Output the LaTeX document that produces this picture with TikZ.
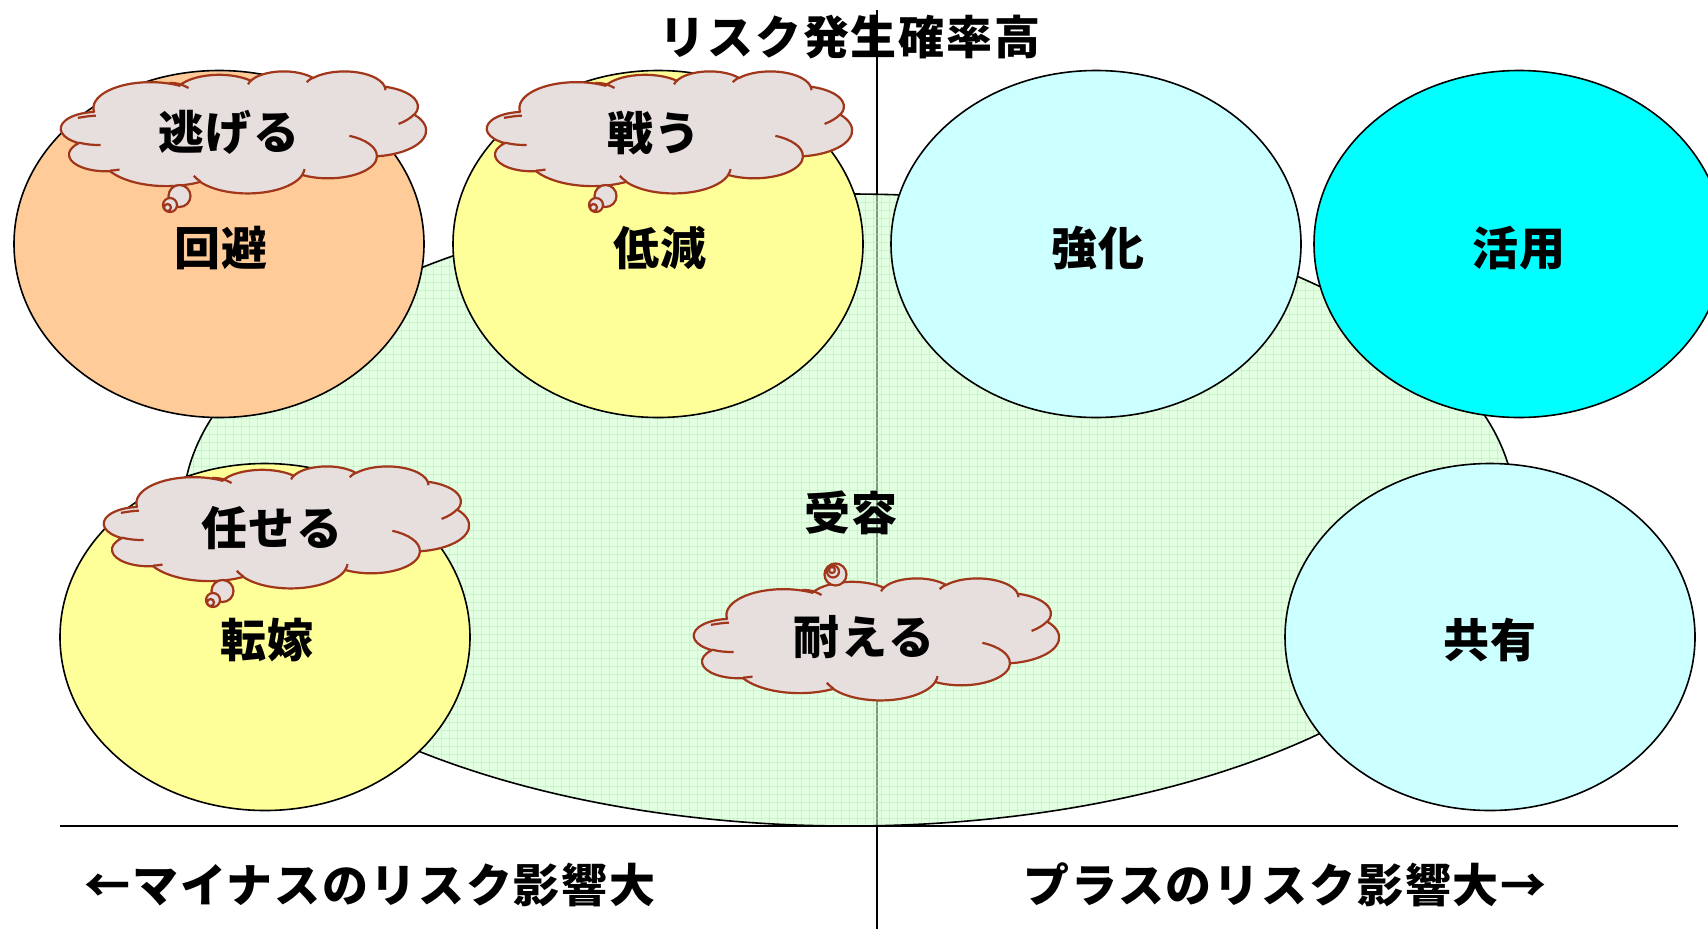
\documentclass[tikz,border=0pt]{standalone}
\usepackage{fontspec}
\newfontfamily\jp{Noto Sans CJK JP}[LetterSpace=4]
\usetikzlibrary{shapes.geometric}

\definecolor{peach}{RGB}{255,204,153}
\definecolor{lyellow}{RGB}{255,255,153}
\definecolor{lcyan}{RGB}{204,255,255}
\definecolor{cyanf}{RGB}{0,255,255}
\definecolor{cloudfill}{RGB}{231,222,222}
\definecolor{cloudline}{RGB}{160,54,26}
\definecolor{bigfill}{RGB}{207,255,207}
\definecolor{gridc}{RGB}{190,238,190}

% arcs of a cloud: name, x radius, y radius, start angle, sweep (geometric, square space)
\newcommand\cloudk{1}
\newcommand\mkarc[5]{%
  \pgfmathsetmacro\cq{(#2/#3)*\cloudk}%
  \pgfmathsetmacro\cta{atan2(\cq*sin(#4),cos(#4))}%
  \pgfmathsetmacro\cte{atan2(\cq*sin(#4+#5),cos(#4+#5))}%
  \pgfmathsetmacro\cte{\cta+mod(\cte-\cta+720,360)}%
  \expandafter\xdef\csname cloudarc#1\endcsname{arc[x radius=#2,y radius=#3,start angle=\cta,end angle=\cte]}%
}
\mkarc{A}{67.53}{91.90}{-190.4875}{123.7805}
\mkarc{B}{53.33}{72.67}{-144.1024}{89.9452}
\mkarc{C}{43.65}{59.45}{-145.8079}{99.7230}
\mkarc{D}{48.57}{65.95}{-130.9861}{117.2417}
\mkarc{E}{53.33}{72.73}{-78.7089}{109.0269}
\mkarc{F}{67.75}{92.20}{-46.2673}{130.2690}
\mkarc{G}{57.85}{78.67}{0.6250}{114.0333}
\mkarc{H}{67.52}{92.15}{22.4516}{115.1726}
\mkarc{I}{77.20}{105.43}{66.2426}{75.7110}
\mkarc{J}{43.60}{59.18}{-274.9421}{146.7356}
\mkarc{K}{43.45}{59.45}{-246.8285}{152.5189}
% inner strokes
\mkarc{ia}{43.45}{59.45}{86.742}{26.4295}
\mkarc{ib}{43.60}{59.18}{73.6105}{11.4475}
\mkarc{ic}{77.20}{105.43}{137.6242}{14.0811}
\mkarc{id}{67.52}{92.15}{6.4533}{15.9984}
\mkarc{ie}{57.85}{78.67}{-70.2924}{70.9174}
\mkarc{if}{67.75}{92.20}{30.3180}{27.7515}
\mkarc{ig}{53.33}{72.73}{-13.7443}{14.8589}
\mkarc{ih}{48.57}{65.95}{-149.1815}{18.1954}
\mkarc{ii}{43.65}{59.45}{-163.4943}{17.6864}

\tikzset{
  cloudshape/.style={draw=cloudline, fill=cloudfill, line width=2.2pt},
  cloudinner/.style={draw=cloudline, line width=2.2pt},
  zone/.style={ellipse, draw=black, line width=1.6pt, minimum width=410pt, minimum height=347pt, inner sep=0pt},
  lbl/.style={font=\jp\bfseries\fontsize{46}{50}\selectfont, inner sep=0pt, text=black},
  axis/.style={draw=black, line width=1.6pt},
}

% cloud with its top-left corner at (#1,#2)
\newcommand\drawcloud[2]{%
  \begin{scope}[shift={(#1,#2)}, xscale=365/432, yscale=122/432]
    \path[cloudshape] (39,143.7) \cloudarcA \cloudarcB \cloudarcC \cloudarcD \cloudarcE
      \cloudarcF \cloudarcG \cloudarcH \cloudarcI \cloudarcJ \cloudarcK -- cycle;
    \path[cloudinner] (46.93,261.77) \cloudarcia
      (69.28,348.99) \cloudarcib
      (164.78,390.90) \cloudarcic
      (288.27,347.51) \cloudarcid
      (341.29,229.54) \cloudarcie
      (417.98,153.54) \cloudarcif
      (383.24,54.26) \cloudarcig
      (290.78,39.52) \cloudarcih
      (221.41,47.20) \cloudarcii
      (128,42) .. controls (140,44) .. (151,60)
      (41.3,158) .. controls (32,160) .. (20,166);
  \end{scope}}

\begin{document}
\begin{tikzpicture}[x=1pt, y=-1pt]
\useasboundingbox (0,0) rectangle (1708,929);
\fill[white] (0,0) rectangle (1708,929);

% axes
\coordinate (vtop) at (877,10);
\coordinate (vbot) at (877,929);
\coordinate (hleft) at (60,826);
\coordinate (hright) at (1678,826);
\draw[axis] (vtop) -- (vbot);
\draw[axis] (hleft) -- (hright);

% large acceptance ellipse with grid pattern
\path[fill=bigfill, fill opacity=0.6] (849,510) ellipse[x radius=666, y radius=316];
\begin{scope}
  \clip (849,510) ellipse[x radius=666, y radius=316];
  \foreach \gx in {185,193,...,1515} \draw[gridc, line width=0.9pt, opacity=0.6] (\gx,190) -- (\gx,830);
  \foreach \gy in {194,202,...,826} \draw[gridc, line width=0.9pt, opacity=0.6] (180,\gy) -- (1518,\gy);
\end{scope}
\draw[black, line width=1.6pt] (849,510) ellipse[x radius=666, y radius=316];
\node[lbl] (juyou) at (851,513) {受容};

% strategy ellipses
\node[zone, fill=peach]   (kaihi)    at (219,244) {};
\node[zone, fill=lyellow] (teigen)   at (658,244) {};
\node[zone, fill=lcyan]   (kyouka)   at (1096,244) {};
\node[zone, fill=cyanf]   (katsuyou) at (1519,244) {};
\node[zone, fill=lyellow] (tenka)    at (265,637) {};
\node[zone, fill=lcyan]   (kyouyuu)  at (1490,637) {};

\node[lbl] (kaihiT)    at (221,248) {回避};
\node[lbl] (teigenT)   at (660,248) {低減};
\node[lbl] (kyoukaT)   at (1098,248) {強化};
\node[lbl] (katsuyouT) at (1519,248) {活用};
\node[lbl] (tenkaT)    at (267,640) {転嫁};
\node[lbl] (kyouyuuT)  at (1490,640) {共有};

% thought clouds
\drawcloud{61}{71}
\draw[cloudshape] (179.5,196) circle[radius=11];
\draw[cloudshape] (170,205) circle[radius=7];
\draw[cloudshape] (167.5,207.5) circle[radius=3.5];
\node[lbl] (nigeru) at (229,132) {逃げる};

\drawcloud{487}{71}
\draw[cloudshape] (605.5,196) circle[radius=11];
\draw[cloudshape] (596,205) circle[radius=7];
\draw[cloudshape] (593.5,207.5) circle[radius=3.5];
\node[lbl] (tatakau) at (654,133) {戦う};

\drawcloud{104}{466}
\draw[cloudshape] (222.5,591) circle[radius=11];
\draw[cloudshape] (213,600) circle[radius=7];
\draw[cloudshape] (210.5,602.5) circle[radius=3.5];
\node[lbl] (makaseru) at (272,528) {任せる};

\drawcloud{694}{578}
\draw[cloudshape] (835.5,574.5) circle[radius=11];
\draw[cloudshape] (833,571.5) circle[radius=6];
\draw[cloudshape] (832,570) circle[radius=3];
\node[lbl] (taeru) at (864,637) {耐える};

% axis labels
\node[lbl] (title) at (850,37) {リスク発生確率高};
\node[lbl] (minus) at (370,885) {←マイナスのリスク影響大};
\node[lbl] (plus) at (1285,885) {プラスのリスク影響大→};
\end{tikzpicture}
\end{document}
